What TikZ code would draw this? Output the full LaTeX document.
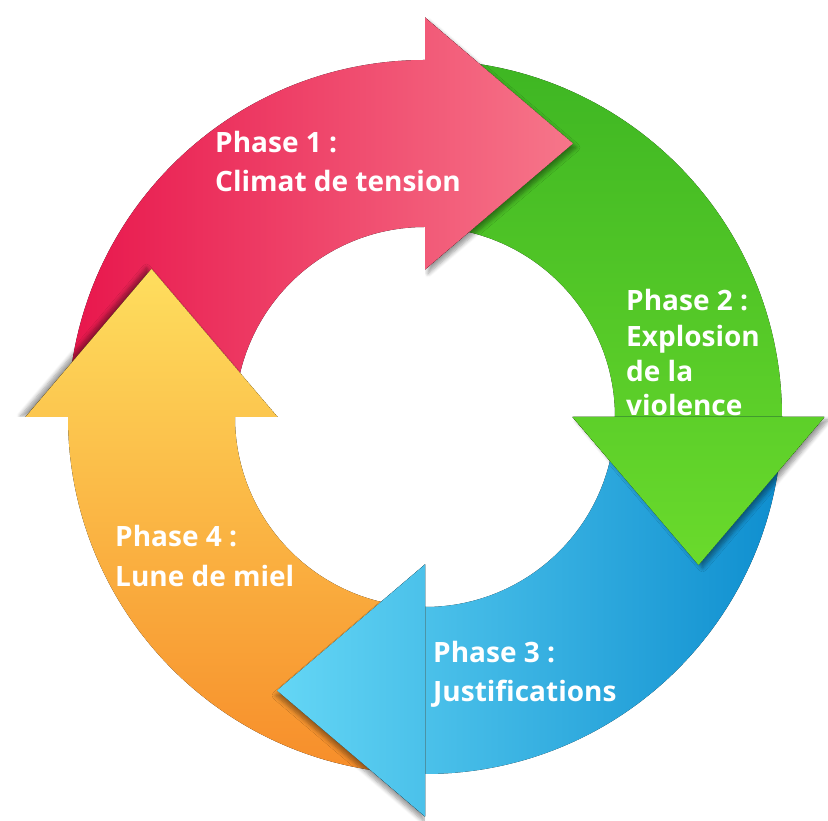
\documentclass[tikz,border=0pt]{standalone}
\usepackage{fontspec}
\setmainfont{Open Sans}
\usetikzlibrary{calc,shadows.blur}
\definecolor{redL}{RGB}{232,22,76}
\definecolor{redR}{RGB}{246,118,138}
\definecolor{greenT}{RGB}{62,182,35}
\definecolor{greenB}{RGB}{106,218,44}
\definecolor{blueL}{RGB}{100,214,245}
\definecolor{blueR}{RGB}{14,142,207}
\definecolor{orangeT}{RGB}{254,222,94}
\definecolor{orangeB}{RGB}{247,141,42}
\def\Ro{357}
\def\Ri{190}
\def\Rm{273.5}
\def\Rh{399.5}
\def\Rl{147.5}
\def\Hl{148}
\def\ArrowPath#1{(C) ++(#1+90:\Ro) arc[start angle=#1+90, end angle=#1, radius=\Ro]
  -- ($(C)+(#1:\Rh)$) -- ($(C)+(#1:\Rm)+(#1-90:\Hl)$) -- ($(C)+(#1:\Rl)$)
  -- ($(C)+(#1:\Ri)$) arc[start angle=#1, end angle=#1+90, radius=\Ri] -- cycle}
\def\HeadPath#1{($(C)+(#1:\Rh)$) -- ($(C)+(#1:\Rm)+(#1-90:\Hl)$) -- ($(C)+(#1:\Rl)$) -- cycle}
\def\TipSide#1{($(C)+(#1:-1000)$) -- ($(C)+(#1:1000)$) -- ($(C)+(#1:1000)+(#1-90:1000)$) -- ($(C)+(#1:-1000)+(#1-90:1000)$) -- cycle}
\tikzset{
  redfill/.style={left color=redL, right color=redR, draw=none},
  greenfill/.style={top color=greenT, bottom color=greenB, draw=none},
  bluefill/.style={left color=blueL, right color=blueR, draw=none},
  orangefill/.style={top color=orangeT, bottom color=orangeB, draw=none},
  label/.style={anchor=base west, inner sep=0pt, text=white,
    font=\fontsize{28}{32}\selectfont\bfseries},
  headshadow/.style 2 args={blur shadow={shadow xshift=#1, shadow yshift=#2,
    shadow opacity=40, shadow blur radius=4pt, shadow blur steps=6}}
}
\begin{document}
\begin{tikzpicture}[x=1pt,y=1pt]
\useasboundingbox (0,0) rectangle (828,821);
\coordinate (C) at (425,404);
% full arrows (shafts)
\fill[redfill] \ArrowPath{90};
\fill[greenfill] \ArrowPath{0};
\fill[bluefill] \ArrowPath{-90};
\fill[orangefill] \ArrowPath{180};
% heads on top, with shadows falling only beyond their bases
\begin{scope}\clip \TipSide{90}; \path[headshadow={3pt}{-4pt}] \HeadPath{90}; \end{scope}
\begin{scope}\clip \HeadPath{90}; \fill[redfill] \ArrowPath{90}; \end{scope}
\begin{scope}\clip \TipSide{0}; \path[headshadow={4pt}{-3pt}] \HeadPath{0}; \end{scope}
\begin{scope}\clip \HeadPath{0}; \fill[greenfill] \ArrowPath{0}; \end{scope}
\begin{scope}\clip \TipSide{-90}; \path[headshadow={-1pt}{-5pt}] \HeadPath{-90}; \end{scope}
\begin{scope}\clip \HeadPath{-90}; \fill[bluefill] \ArrowPath{-90}; \end{scope}
\begin{scope}\clip \TipSide{180}; \path[headshadow={-5pt}{1pt}] \HeadPath{180}; \end{scope}
\begin{scope}\clip \HeadPath{180}; \fill[orangefill] \ArrowPath{180}; \end{scope}
% labels
\node[label] (p1a) at (215,668) {Phase 1 :};
\node[label] (p1b) at (215,629) {Climat de tension};
\node[label] (p2a) at (626,510) {Phase 2 :};
\node[label] (p2b) at (626,474) {Explosion};
\node[label] (p2c) at (626,439) {de la};
\node[label] (p2d) at (626,405) {violence};
\node[label] (p3a) at (433,158) {Phase 3 :};
\node[label] (p3b) at (433,119) {Justifications};
\node[label] (p4a) at (115,274) {Phase 4 :};
\node[label] (p4b) at (115,234) {Lune de miel};
\end{tikzpicture}
\end{document}
